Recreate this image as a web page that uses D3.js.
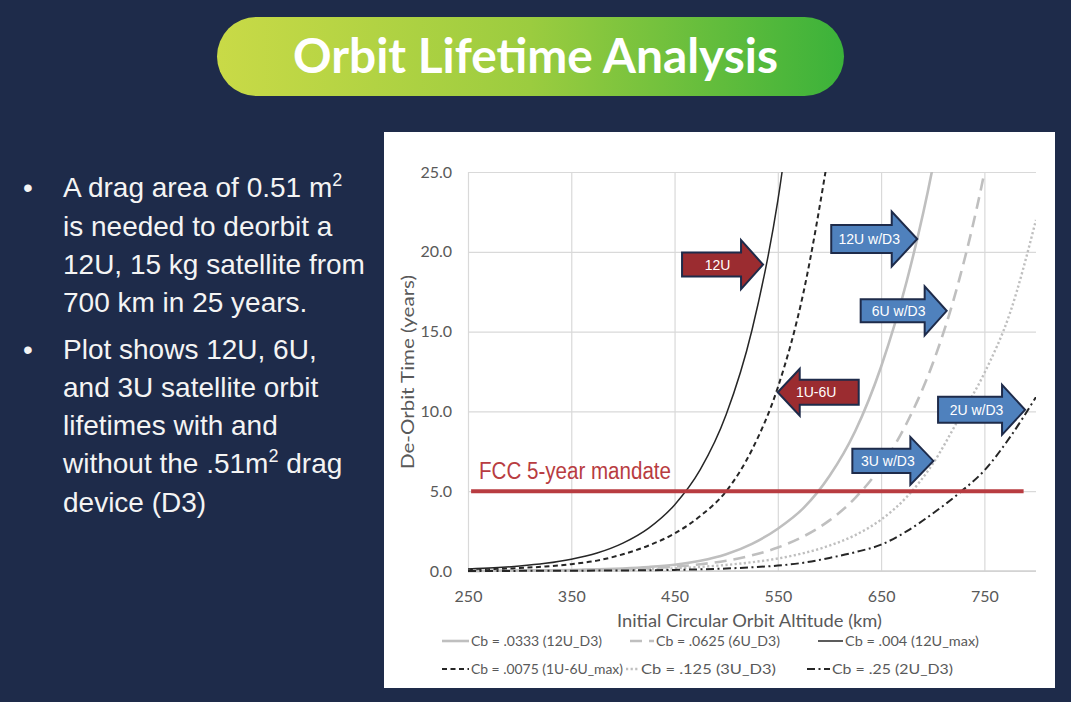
<!DOCTYPE html>
<html><head><meta charset="utf-8">
<script src="https://cdn.jsdelivr.net/npm/d3@7"></script>
<style>
body{margin:0;background:#1e2b4a;}
svg{display:block;}
</style>
</head><body>
<svg id="c" width="1071" height="702"></svg>
<script>
// ---------- data ----------
const titleText = "Orbit Lifetime Analysis";
const altitudes = [250,275,300,325,350,375,400,425,450,475,500,525,550,575,600,625,650,675,700,725,750,775,800];
const cb0333_12U_D3   = [0.01,0.015,0.025,0.04,0.06,0.10,0.16,0.25,0.39,0.64,1.05,1.7,2.65,3.95,5.95,8.77,12.8,18.2,25.3,35,null,null,null];
const cb0625_6U_D3    = [0.01,0.012,0.018,0.03,0.046,0.073,0.113,0.18,0.276,0.42,0.645,0.98,1.47,2.17,3.17,4.58,6.56,9.29,13.0,18.1,24.96,34,null];
const cb004_12U_max   = [0.13,0.20,0.31,0.48,0.74,1.13,1.75,2.69,4.14,6.36,9.80,15.1,23.2,35.7,null,null,null,null,null,null,null,null,null];
const cb0075_1U6U_max = [0.08,0.12,0.19,0.28,0.43,0.65,1.05,1.6,2.35,3.45,5.0,7.6,11.5,17.5,26.5,null,null,null,null,null,null,null,null];
const cb125_3U_D3     = [0.005,0.008,0.012,0.019,0.029,0.046,0.072,0.11,0.17,0.256,0.38,0.55,0.78,1.12,1.59,2.25,3.22,4.65,6.71,9.5,12.4,16.2,22.0];
const cb25_2U_D3      = [0.003,0.005,0.008,0.012,0.018,0.025,0.035,0.05,0.07,0.105,0.155,0.23,0.34,0.52,0.82,1.18,1.65,2.5,3.6,4.85,6.3,8.4,10.9];
const seriesNames = ["Cb = .0333 (12U_D3)","Cb = .0625 (6U_D3)","Cb = .004 (12U_max)","Cb = .0075 (1U-6U_max)","Cb = .125 (3U_D3)","Cb = .25 (2U_D3)"];
const xTicks = [250,350,450,550,650,750];
const yTicks = [0,5,10,15,20,25];
const xTitle = "Initial Circular Orbit Altitude (km)";
const yTitle = "De-Orbit Time (years)";
const fccValue = 5;
const fccAltSpan = [253, 788];
const fccLabel = "FCC 5-year mandate";
const arrowLabels = ["12U","1U-6U","12U w/D3","6U w/D3","3U w/D3","2U w/D3"];
const arrowTipAlt = [535.7, 549.9, 685, 713.5, 700.6, 789.4];
const arrowTipYears = [19.2, 11.2, 20.8, 16.3, 6.9, 10.1];
const arrowDir = [1,-1,1,1,1,1];
const arrowKind = ["red","red","blue","blue","blue","blue"];

// ---------- layout / style ----------
const svg = d3.select("#c");
const W = 1071, H = 702;
const plot = {l:468, r:1036, t:172, b:571};
const x = d3.scaleLinear().domain([250,800]).range([plot.l, plot.r]);
const y = d3.scaleLinear().domain([0,25]).range([plot.b, plot.t]);
const navy = "#1e2b4a";
const axisGray = "#595959";
const gridGray = "#d9d9d9";
const lightGray = "#bfbfbf";
const dark = "#262626";
const styles = [
  {color:lightGray, w:2.6, dash:null},
  {color:lightGray, w:2.6, dash:"12,7"},
  {color:dark, w:1.5, dash:null},
  {color:dark, w:2, dash:"5,3.5"},
  {color:lightGray, w:2.4, dash:"2.2,2.4"},
  {color:dark, w:2, dash:"8,3.5,2,3.5"}
];
const seriesValues = [cb0333_12U_D3, cb0625_6U_D3, cb004_12U_max, cb0075_1U6U_max, cb125_3U_D3, cb25_2U_D3];

svg.append("rect").attr("width",W).attr("height",H).attr("fill",navy);

// title pill
const defs = svg.append("defs");
const grad = defs.append("linearGradient").attr("id","tg").attr("x1","0").attr("x2","1").attr("y1","0").attr("y2","0");
grad.append("stop").attr("offset","0%").attr("stop-color","#c9da47");
grad.append("stop").attr("offset","50%").attr("stop-color","#9bcc3f");
grad.append("stop").attr("offset","100%").attr("stop-color","#3bb23a");
svg.append("rect").attr("x",217).attr("y",17).attr("width",627).attr("height",79).attr("rx",39.5)
  .attr("fill","url(#tg)");
svg.append("text").attr("x",535.5).attr("y",73).attr("text-anchor","middle")
  .attr("font-family","Lato, 'Open Sans', sans-serif").attr("font-weight","bold").attr("font-size",47)
  .attr("fill","#ffffff").attr("textLength",485).attr("lengthAdjust","spacingAndGlyphs").text(titleText);

// left bullet text
const bulletLines = [
  {y:197.3, parts:[["A drag area of 0.51 m",false],["2",true]], bullet:true},
  {y:236, parts:[["is needed to deorbit a",false]]},
  {y:273.5, parts:[["12U, 15 kg satellite from",false]]},
  {y:311.7, parts:[["700 km in 25 years.",false]]},
  {y:359.3, parts:[["Plot shows 12U, 6U,",false]], bullet:true},
  {y:397, parts:[["and 3U satellite orbit",false]]},
  {y:435, parts:[["lifetimes with and",false]]},
  {y:473.3, parts:[["without the .51m",false],["2",true],[" drag",false]]},
  {y:511.7, parts:[["device (D3)",false]]}
];
const lt = svg.append("g").attr("font-family","'Liberation Sans', Arial, sans-serif").attr("fill","#f4f4f4");
bulletLines.forEach(l => {
  if (l.bullet) lt.append("text").attr("x",23).attr("y",l.y).attr("font-size",28).text("\u2022");
  const t = lt.append("text").attr("x",63).attr("y",l.y).attr("font-size",28);
  l.parts.forEach(p => {
    const ts = t.append("tspan").text(p[0]);
    if (p[1]) ts.attr("font-size",18).attr("dy",-11);
    else if (t.selectAll("tspan").size()>1) ts.attr("dy",11);
  });
});

// chart panel
svg.append("rect").attr("x",384).attr("y",132).attr("width",671).attr("height",556).attr("fill","#ffffff");

// grid + axes
const gy = svg.append("g").attr("transform",`translate(${plot.l},0)`)
  .call(d3.axisLeft(y).tickValues(yTicks).tickFormat(d3.format(".1f")).tickSize(-(plot.r-plot.l)).tickPadding(16));
gy.select(".domain").remove();
gy.selectAll("line").attr("stroke",gridGray).attr("stroke-width",1.2);
gy.selectAll("text").attr("fill",axisGray).attr("font-size",16).attr("font-family","Lato, sans-serif");

const gx = svg.append("g").attr("transform",`translate(0,${plot.b})`)
  .call(d3.axisBottom(x).tickValues(xTicks).tickFormat(d3.format("d")).tickSize(-(plot.b-plot.t)).tickPadding(20));
gx.select(".domain").remove();
gx.selectAll("line").attr("stroke",gridGray).attr("stroke-width",1.2);
gx.selectAll("text").attr("fill",axisGray).attr("font-size",16).attr("font-family","Lato, sans-serif");
svg.append("line").attr("x1",plot.l).attr("x2",plot.r).attr("y1",y(0)).attr("y2",y(0))
  .attr("stroke","#d0d0d0").attr("stroke-width",1.5);

svg.append("text").attr("x",749.5).attr("y",627).attr("text-anchor","middle")
  .attr("font-family","Lato, sans-serif").attr("font-size",18).attr("fill",axisGray)
  .attr("textLength",265).attr("lengthAdjust","spacingAndGlyphs").text(xTitle);
svg.append("text").attr("transform","translate(414,372) rotate(-90)").attr("text-anchor","middle")
  .attr("font-family","Lato, sans-serif").attr("font-size",18).attr("fill",axisGray)
  .attr("textLength",194).attr("lengthAdjust","spacingAndGlyphs").text(yTitle);

// series
defs.append("clipPath").attr("id","pc").append("rect")
  .attr("x",plot.l).attr("y",plot.t).attr("width",plot.r-plot.l).attr("height",plot.b-plot.t+6);
const line = d3.line().defined(d=>d[1]!=null).x(d=>x(d[0])).y(d=>y(d[1])).curve(d3.curveMonotoneX);
const gs = svg.append("g").attr("clip-path","url(#pc)");
seriesValues.forEach((vals,i) => {
  const pts = altitudes.map((a,j)=>[a,vals[j]]);
  gs.append("path").attr("d",line(pts)).attr("fill","none")
    .attr("stroke",styles[i].color).attr("stroke-width",styles[i].w)
    .attr("stroke-dasharray",styles[i].dash);
});

// FCC line
svg.append("line").attr("x1",x(fccAltSpan[0])).attr("x2",x(fccAltSpan[1]))
  .attr("y1",y(fccValue)).attr("y2",y(fccValue)).attr("stroke","#b83c41").attr("stroke-width",4);
svg.append("text").attr("x",479).attr("y",479).attr("font-family","'Liberation Sans', Arial, sans-serif")
  .attr("font-size",23).attr("fill","#b83c41").attr("textLength",192).attr("lengthAdjust","spacingAndGlyphs").text(fccLabel);

// legend
const legendPos = [
  {sx:442, tx:471, y:641, w:131},{sx:630, tx:656, y:641, w:124},{sx:818, tx:845, y:641, w:134},
  {sx:442, tx:471, y:669, w:152},{sx:626, tx:641, y:669, w:135},{sx:807, tx:832, y:669, w:121}
];
const lg = svg.append("g");
seriesNames.forEach((n,i) => {
  const p = legendPos[i];
  lg.append("line").attr("x1",p.sx).attr("x2",p.tx-2).attr("y1",p.y).attr("y2",p.y)
    .attr("stroke",styles[i].color).attr("stroke-width",styles[i].w).attr("stroke-dasharray",styles[i].dash);
  lg.append("text").attr("x",p.tx).attr("y",p.y+5).attr("font-family","Lato, sans-serif")
    .attr("font-size",14).attr("fill",axisGray).attr("textLength",p.w).attr("lengthAdjust","spacingAndGlyphs").text(n);
});

// arrows
const arrowSize = {
  "12U":{L:81,h:22,b:12,H:24.5},
  "1U-6U":{L:81,h:22,b:12.5,H:23.5},
  "12U w/D3":{L:86,h:25.5,b:14,H:27.5},
  "6U w/D3":{L:86,h:22,b:11.5,H:24.5},
  "3U w/D3":{L:81,h:23,b:12.2,H:24},
  "2U w/D3":{L:87,h:23,b:13,H:25}
};
const fills = {red:"#9b2c30", blue:"#4f81bd"};
const ag = svg.append("g");
arrowLabels.forEach((lab,i) => {
  const s = arrowSize[lab], d = arrowDir[i];
  const tx = x(arrowTipAlt[i]), ty = y(arrowTipYears[i]);
  const pts = [[tx-d*s.L,ty-s.b],[tx-d*s.h,ty-s.b],[tx-d*s.h,ty-s.H],[tx,ty],[tx-d*s.h,ty+s.H],[tx-d*s.h,ty+s.b],[tx-d*s.L,ty+s.b]];
  ag.append("path").attr("d","M"+pts.map(p=>p.join(",")).join("L")+"Z")
    .attr("fill",fills[arrowKind[i]]).attr("stroke",navy).attr("stroke-width",2).attr("stroke-linejoin","miter");
  ag.append("text").attr("x",tx-d*(s.L/2+(d>0?5:-2))).attr("y",ty+5).attr("text-anchor","middle")
    .attr("font-family","'Liberation Sans', Arial, sans-serif").attr("font-size",14).attr("fill","#ffffff").text(lab);
});
</script>
</body></html>
